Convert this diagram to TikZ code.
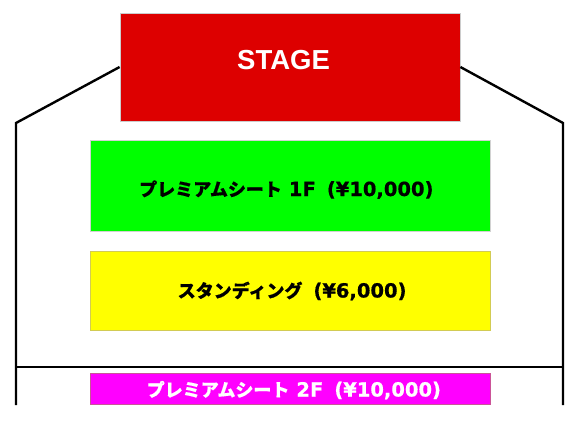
\documentclass[tikz,border=0pt]{standalone}
\usepackage{fontspec}
\newfontfamily\jp{Noto Sans CJK JP}[BoldFeatures={FakeBold=0.6}]
\newfontfamily\lat{DejaVu Sans}[BoldFeatures={FakeBold=0.6}]
\newfontfamily\arial{Liberation Sans}
\definecolor{stagered}{HTML}{DD0000}
\definecolor{seatgreen}{HTML}{00FF00}
\definecolor{seatyellow}{HTML}{FFFF00}
\definecolor{seatmagenta}{HTML}{FF00FF}
\newcommand{\jpt}[1]{{\jp\bfseries\fontsize{18}{20}\selectfont #1}}
\newcommand{\ltt}[1]{{\lat\bfseries\fontsize{19.5}{21}\selectfont #1}}
\begin{document}
\begin{tikzpicture}[x=1pt,y=-1pt,
  area/.style={rectangle, inner sep=0pt, line width=0.8pt},
  outline/.style={line width=2.4pt, black},
  lbl/.style={inner sep=0pt, anchor=base west}]
\useasboundingbox (0,0) rectangle (580,420);
\coordinate (lc) at (16,123);
\coordinate (lb) at (16,405);
\coordinate (rc) at (563,123);
\coordinate (rb) at (563,405);
\coordinate (hl) at (16,367);
\coordinate (hr) at (563,367);
\node[area, fill=stagered, draw=gray!40, minimum width=340pt, minimum height=108pt] (stage) at (290,67) {};
\draw[outline] (stage.west) -- (lc) -- (lb);
\draw[outline] (stage.east) -- (rc) -- (rb);
\draw[outline] (hl) -- (hr);
\node[area, fill=seatgreen, draw=gray!35, minimum width=400pt, minimum height=91pt] (green) at (290,185.5) {};
\node[area, fill=seatyellow, draw=yellow!60!gray, minimum width=400pt, minimum height=79pt] (yellow) at (290,290.5) {};
\node[area, fill=seatmagenta, draw=magenta!60!gray, minimum width=400pt, minimum height=31pt] (magenta) at (290,388.5) {};
\node[lbl, text=white] (stagelbl) at (237,70) {\arial\bfseries\fontsize{27.5}{29}\selectfont STAGE};
\node[lbl] (greenlbl) at (139,196) {\jpt{プレミアムシート}\hspace{7pt}\ltt{1F}\hspace{11pt}\ltt{(¥10,000)}};
\node[lbl] (yellowlbl) at (177.5,297.5) {\jpt{スタンディング}\hspace{11pt}\ltt{(¥6,000)}};
\node[lbl, text=white] (magentalbl) at (146.5,396.5) {\jpt{プレミアムシート}\hspace{7pt}\ltt{2F}\hspace{11pt}\ltt{(¥10,000)}};
\end{tikzpicture}
\end{document}
